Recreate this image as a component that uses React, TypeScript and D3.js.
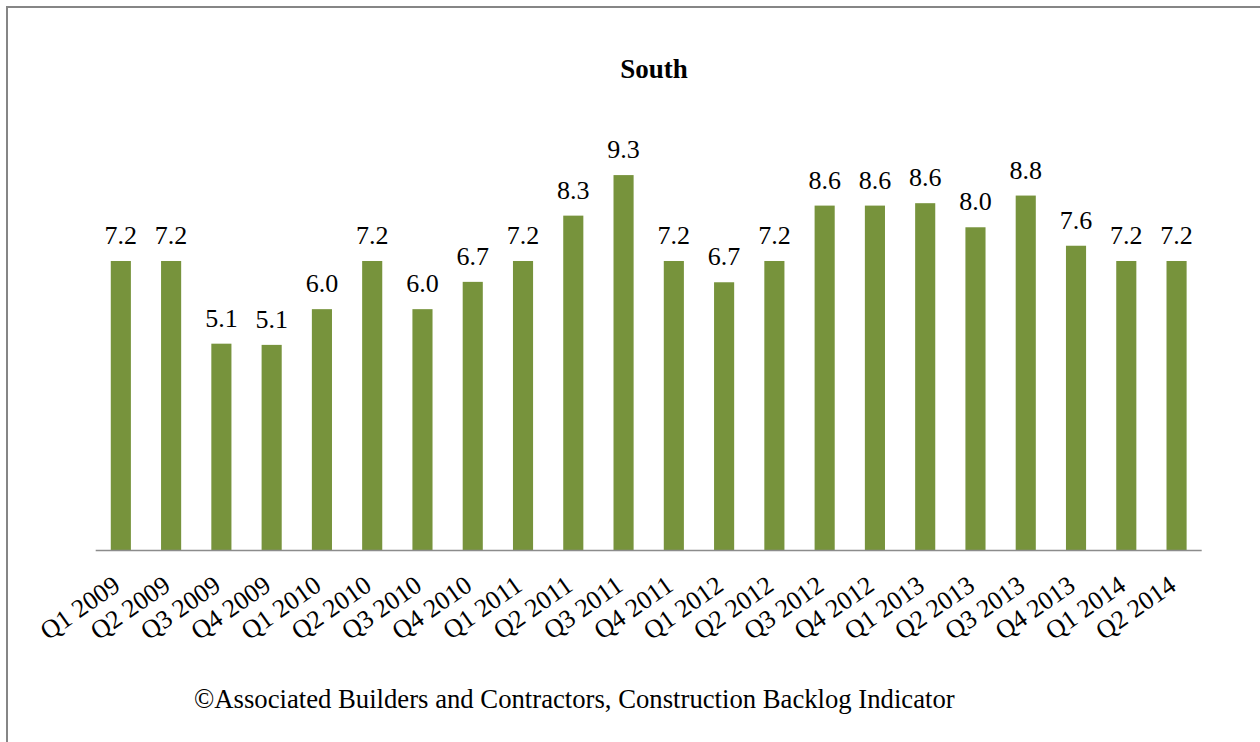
import React from "react";
import * as d3 from "d3";

const categories = [
  "Q1 2009", "Q2 2009", "Q3 2009", "Q4 2009",
  "Q1 2010", "Q2 2010", "Q3 2010", "Q4 2010",
  "Q1 2011", "Q2 2011", "Q3 2011", "Q4 2011",
  "Q1 2012", "Q2 2012", "Q3 2012", "Q4 2012",
  "Q1 2013", "Q2 2013", "Q3 2013", "Q4 2013",
  "Q1 2014", "Q2 2014",
];
const values = [
  7.2, 7.2, 5.14, 5.11,
  6.0, 7.2, 6.0, 6.68,
  7.2, 8.33, 9.34, 7.2,
  6.67, 7.2, 8.58, 8.58,
  8.64, 8.04, 8.83, 7.58,
  7.2, 7.2,
];
const title = "South";
const footer = "©Associated Builders and Contractors, Construction Backlog Indicator";

const W = 1260;
const H = 742;
const FONT = "'Liberation Serif', 'Times New Roman', serif";

export default function App() {
  const x = d3
    .scaleBand<string>()
    .domain(categories)
    .range([95.7, 1201.7])
    .paddingInner(0.6)
    .paddingOuter(0.3);
  const y = d3.scaleLinear().domain([0, 10]).range([550, 148.6]);
  const fmt = d3.format(".1f");
  const bw = x.bandwidth();

  return (
    <div style={{ position: "fixed", left: 0, top: 0, width: W, height: H, background: "#fff" }}>
      <svg width={W} height={H} style={{ display: "block" }} fontFamily={FONT}>
        <rect x={0} y={0} width={W} height={H} fill="#fff" />
        <rect x={7} y={7} width={W + 20} height={H + 20} fill="none" stroke="#868686" strokeWidth={2} />
        <text x={654} y={78} textAnchor="middle" fontSize={27} fontWeight="bold" fill="#000">
          {title}
        </text>
        {categories.map((c, i) => {
          const x0 = x(c) as number;
          const v = values[i];
          return (
            <g key={c}>
              <rect x={x0} y={y(v)} width={bw} height={y(0) - y(v)} fill="#77933C" />
              <text
                x={x0 + bw / 2}
                y={y(v) - 17}
                textAnchor="middle"
                fontSize={26}
                fill="#000"
              >
                {fmt(v)}
              </text>
            </g>
          );
        })}
        <line x1={95.7} x2={1201.7} y1={550.5} y2={550.5} stroke="#8c8c8c" strokeWidth={1.5} />
        {categories.map((c) => {
          const cx = (x(c) as number) + bw / 2;
          return (
            <text
              key={"t" + c}
              transform={`translate(${cx + 1},${589}) rotate(-35)`}
              textAnchor="end"
              fontSize={26}
              fill="#000"
            >
              {c}
            </text>
          );
        })}
        <text x={194} y={708} fontSize={26.7} fill="#000">
          {footer}
        </text>
      </svg>
    </div>
  );
}
